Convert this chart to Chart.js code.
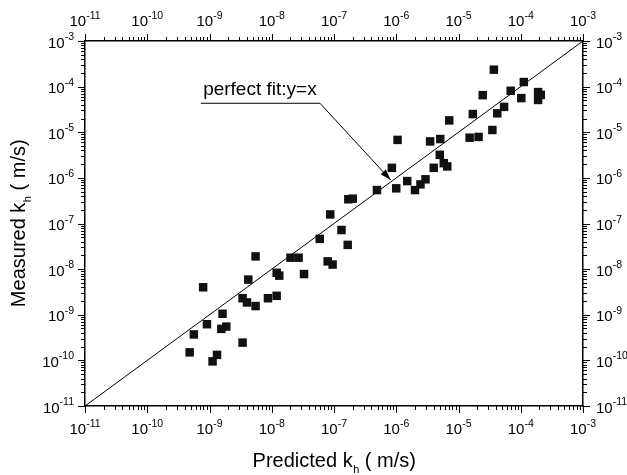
<!DOCTYPE html>
<html>
<head>
<meta charset="utf-8">
<script src="https://cdn.jsdelivr.net/npm/chart.js@4.4.0/dist/chart.umd.min.js"></script>
<style>
  html, body { margin: 0; padding: 0; background: #fff; }
</style>
</head>
<body>
<canvas id="chart" width="627" height="475"></canvas>
<script>
// values (m/s)
const predicted = [
  4.8e-10, 5.6e-10, 7.9e-10, 9.1e-10, 1.12e-9, 1.32e-9, 1.62e-9, 1.55e-9, 1.86e-9, 3.4e-9,
  3.4e-9, 4.0e-9, 4.2e-9, 5.5e-9, 5.5e-9, 8.7e-9, 1.2e-8, 1.2e-8, 1.32e-8, 2.0e-8,
  2.7e-8, 3.3e-8, 5.9e-8, 7.9e-8, 9.5e-8, 8.7e-8, 1.32e-7, 1.66e-7, 1.7e-7, 2.0e-7,
  4.9e-7, 8.5e-7, 1.0e-6, 1.05e-6, 1.5e-6, 2.0e-6, 2.45e-6, 2.95e-6, 3.5e-6, 4.0e-6,
  5.1e-6, 5.0e-6, 5.8e-6, 6.6e-6, 7.1e-6, 1.51e-5, 1.7e-5, 2.1e-5, 2.45e-5, 3.5e-5,
  3.7e-5, 4.2e-5, 5.4e-5, 6.9e-5, 1.02e-4, 1.12e-4, 1.9e-4, 1.9e-4, 2.1e-4
];
const measured = [
  1.5e-10, 3.7e-10, 4.0e-9, 6.2e-10, 9.5e-11, 1.32e-10, 1.05e-9, 4.9e-10, 5.5e-10, 2.45e-10,
  2.3e-9, 1.86e-9, 5.9e-9, 1.9e-8, 1.55e-9, 2.3e-9, 2.6e-9, 8.3e-9, 7.2e-9, 1.78e-8,
  1.78e-8, 7.8e-9, 4.6e-8, 1.48e-8, 1.26e-8, 1.58e-7, 7.2e-8, 3.4e-8, 3.4e-7, 3.5e-7,
  5.4e-7, 1.66e-6, 5.9e-7, 6.8e-6, 8.5e-7, 5.4e-7, 7.2e-7, 9.3e-7, 6.3e-6, 1.66e-6,
  7.1e-6, 3.2e-6, 2.1e-6, 1.78e-6, 1.82e-5, 7.6e-6, 2.5e-5, 7.9e-6, 6.5e-5, 1.12e-5,
  2.35e-4, 2.6e-5, 3.6e-5, 8.1e-5, 5.6e-5, 1.26e-4, 7.6e-5, 5.1e-5, 6.6e-5
];
const fitLine = [1e-11, 1e-3];           // y = x, both ends
const decades = [-11, -10, -9, -8, -7, -6, -5, -4, -3];  // tick label exponents
const xTitle = ['Predicted k', 'h', ' ( m/s)'];
const yTitle = ['Measured k', 'h', ' ( m/s)'];
const noteText = 'perfect fit:y=x';

// annotation anchor points in data units
const note = {
  text: { x: 7.9e-10, y: 6.6e-5 },
  lineStart: { x: 7.24e-10, y: 4.32e-5 },
  elbow: { x: 5.96e-8, y: 4.32e-5 },
  tip: { x: 8.15e-7, y: 8.97e-7 }
};

const FONT = '"Liberation Sans", Arial, sans-serif';

function logAxis(position, size) {
  return {
    type: 'logarithmic',
    position: position,
    min: fitLine[0],
    max: fitLine[1],
    grid: { display: false, drawTicks: false },
    border: { display: true, color: '#000', width: 1.5 },
    ticks: { display: false },
    afterFit: function(s) {
      if (s.isHorizontal()) s.height = size; else s.width = size;
    }
  };
}

// draws "10" with a raised exponent
function drawPow(ctx, exp, x, y, align, vertical) {
  ctx.font = '15px ' + FONT;
  const wb = ctx.measureText('10').width;
  ctx.font = '10.5px ' + FONT;
  const we = ctx.measureText(String(exp)).width;
  const total = wb + we;
  let left;
  if (align === 'center') left = x - total / 2;
  else if (align === 'right') left = x - total;
  else left = x;
  const base = vertical ? y + 6.5 : y;
  ctx.textAlign = 'left';
  ctx.textBaseline = 'alphabetic';
  ctx.font = '15px ' + FONT;
  ctx.fillText('10', left, base);
  ctx.font = '10.5px ' + FONT;
  ctx.fillText(String(exp), left + wb, base - 7.5);
}

// title with a subscript piece, centred at x
function drawTitle(ctx, parts, cx, base) {
  ctx.font = '20px ' + FONT;
  const w0 = ctx.measureText(parts[0]).width;
  const w2 = ctx.measureText(parts[2]).width;
  ctx.font = '11px ' + FONT;
  const w1 = ctx.measureText(parts[1]).width;
  let x = cx - (w0 + w1 + w2) / 2;
  ctx.textAlign = 'left';
  ctx.textBaseline = 'alphabetic';
  ctx.font = '20px ' + FONT;
  ctx.fillText(parts[0], x, base);
  x += w0;
  ctx.font = '11px ' + FONT;
  ctx.fillText(parts[1], x + 0.5, base + 6);
  x += w1 + 0.5;
  ctx.font = '20px ' + FONT;
  ctx.fillText(parts[2], x, base);
}

const decorations = {
  id: 'decorations',
  afterDraw(chart) {
    const ctx = chart.ctx;
    const area = chart.chartArea;
    const sx = chart.scales.x, sy = chart.scales.y;
    ctx.save();
    ctx.fillStyle = '#000';
    ctx.strokeStyle = '#000';

    // tick marks, pointing outward on every side
    ctx.lineWidth = 1;
    ctx.beginPath();
    decades.forEach(function(d) {
      const steps = d === decades[decades.length - 1] ? [1] : [1, 2, 3, 4, 5, 6, 7, 8, 9];
      steps.forEach(function(m) {
        const v = m * Math.pow(10, d);
        const len = m === 1 ? 7 : 4;
        const px = Math.round(sx.getPixelForValue(v)) + 0.5;
        const py = Math.round(sy.getPixelForValue(v)) + 0.5;
        ctx.moveTo(px, area.bottom); ctx.lineTo(px, area.bottom + len);
        ctx.moveTo(px, area.top); ctx.lineTo(px, area.top - len);
        ctx.moveTo(area.left, py); ctx.lineTo(area.left - len, py);
        ctx.moveTo(area.right, py); ctx.lineTo(area.right + len, py);
      });
    });
    ctx.stroke();

    // tick labels on all four sides
    decades.forEach(function(d) {
      const v = Math.pow(10, d);
      const px = sx.getPixelForValue(v);
      const py = sy.getPixelForValue(v);
      drawPow(ctx, d, px, area.bottom + 28, 'center', false);
      drawPow(ctx, d, px, area.top - 15, 'center', false);
      drawPow(ctx, d, area.left - 11, py, 'right', true);
      drawPow(ctx, d, area.right + 13, py, 'left', true);
    });

    // axis titles
    drawTitle(ctx, xTitle, (area.left + area.right) / 2, 467);
    ctx.save();
    ctx.translate(25, (area.top + area.bottom) / 2);
    ctx.rotate(-Math.PI / 2);
    drawTitle(ctx, yTitle, 0, 0);
    ctx.restore();

    // annotation with leader line and arrow
    const p = function(pt) { return [sx.getPixelForValue(pt.x), sy.getPixelForValue(pt.y)]; };
    const t = p(note.text), a = p(note.lineStart), b = p(note.elbow), c = p(note.tip);
    ctx.font = '19px ' + FONT;
    ctx.textAlign = 'left';
    ctx.textBaseline = 'alphabetic';
    ctx.fillText(noteText, t[0], t[1]);
    ctx.lineWidth = 1;
    ctx.beginPath();
    ctx.moveTo(a[0], a[1]);
    ctx.lineTo(b[0], b[1]);
    ctx.lineTo(c[0], c[1]);
    ctx.stroke();
    const ang = Math.atan2(c[1] - b[1], c[0] - b[0]);
    ctx.beginPath();
    ctx.moveTo(c[0], c[1]);
    ctx.lineTo(c[0] - 11 * Math.cos(ang) + 3.5 * Math.sin(ang), c[1] - 11 * Math.sin(ang) - 3.5 * Math.cos(ang));
    ctx.lineTo(c[0] - 11 * Math.cos(ang) - 3.5 * Math.sin(ang), c[1] - 11 * Math.sin(ang) + 3.5 * Math.cos(ang));
    ctx.closePath();
    ctx.fill();
    ctx.restore();
  }
};

new Chart(document.getElementById('chart'), {
  type: 'scatter',
  data: {
    datasets: [
      {
        label: 'measured vs predicted',
        data: predicted.map((x, i) => ({ x: x, y: measured[i] })),
        pointStyle: 'rect',
        pointRadius: 6,
        pointHoverRadius: 6,
        backgroundColor: '#111',
        borderColor: '#111',
        borderWidth: 0
      },
      {
        type: 'line',
        label: 'y = x',
        data: fitLine.map(v => ({ x: v, y: v })),
        borderColor: '#000',
        borderWidth: 1,
        pointRadius: 0,
        fill: false
      }
    ]
  },
  options: {
    responsive: false,
    animation: false,
    devicePixelRatio: 1,
    layout: { padding: 0 },
    plugins: {
      legend: { display: false },
      tooltip: { enabled: false }
    },
    scales: {
      x: logAxis('bottom', 69),
      x2: logAxis('top', 41),
      y: logAxis('left', 85),
      y2: logAxis('right', 44)
    }
  },
  plugins: [decorations]
});
</script>
</body>
</html>
